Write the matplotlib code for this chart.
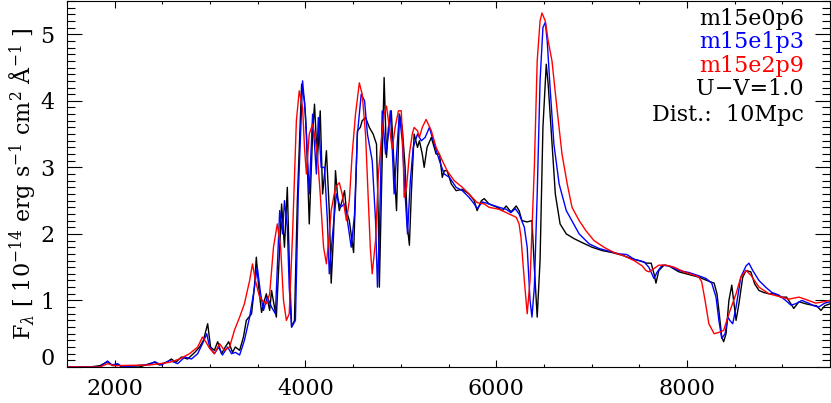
import matplotlib
matplotlib.use("Agg")
import matplotlib.pyplot as plt
from matplotlib.ticker import MultipleLocator, FuncFormatter

# --- data (wavelength in Angstrom, flux in 1e-14 units) ---
wl_k = [1500, 1740, 1845, 1925, 1980, 2030, 2075, 2260, 2365, 2420, 2470, 2555, 2595, 2640, 2700,
        2765, 2840, 2890, 2930, 2975, 3005, 3045, 3080, 3120, 3160, 3195, 3235, 3265, 3310, 3350,
        3380, 3435, 3465, 3485, 3510, 3540, 3570, 3590, 3625, 3645, 3675, 3695, 3730, 3750, 3780,
        3810, 3830, 3855, 3885, 3915, 3960, 3990, 4010, 4040, 4075, 4095, 4125, 4155, 4180, 4200,
        4220, 4250, 4270, 4295, 4315, 4335, 4355, 4385, 4410, 4430, 4460, 4505, 4525, 4545, 4575,
        4595, 4630, 4670, 4710, 4745, 4765, 4775, 4795, 4825, 4850, 4870, 4900, 4930, 4955, 4985,
        5015, 5045, 5070, 5090, 5110, 5140, 5175, 5195, 5225, 5245, 5275, 5320, 5350, 5370, 5405,
        5435, 5455, 5485, 5530, 5580, 5645, 5715, 5770, 5800, 5845, 5875, 5925, 6010, 6065, 6105,
        6155, 6210, 6240, 6270, 6325, 6375, 6400, 6430, 6460, 6490, 6525, 6545, 6575, 6620, 6670,
        6735, 6815, 6900, 7005, 7110, 7215, 7320, 7415, 7495, 7580, 7625, 7655, 7675, 7705, 7760,
        7810, 7915, 8020, 8125, 8210, 8285, 8315, 8335, 8365, 8385, 8410, 8440, 8470, 8490, 8515,
        8545, 8585, 8620, 8670, 8710, 8755, 8805, 8860, 8920, 8985, 9045, 9090, 9120, 9175, 9245,
        9310, 9360, 9405, 9445, 9500]
fl_k = [0.0, 0.0, 0.02, 0.08, 0.02, 0.04, 0.0, 0.0, 0.05, 0.07, 0.03, 0.08, 0.12, 0.07, 0.15,
        0.12, 0.22, 0.3, 0.4, 0.65, 0.3, 0.25, 0.38, 0.2, 0.3, 0.38, 0.22, 0.3, 0.25, 0.45,
        0.7, 0.8, 1.2, 1.65, 1.2, 0.82, 1.0, 1.1, 0.85, 1.15, 0.9, 0.75, 1.8, 2.45, 1.8,
        2.7, 1.6, 0.6, 0.7, 2.5, 4.25, 4.0, 3.5, 2.15, 3.5, 3.95, 3.1, 3.85, 2.6, 2.9,
        3.25, 2.35, 1.26, 2.0, 2.95, 2.6, 2.35, 2.5, 2.65, 2.35, 2.2, 1.72, 2.6, 3.55, 3.6,
        3.7, 3.75, 3.6, 3.5, 3.35, 2.2, 1.2, 2.5, 4.35, 3.15, 3.6, 3.85, 3.0, 2.35, 3.8,
        3.6, 3.0, 2.1, 1.83, 2.6, 3.5, 3.3, 3.4, 3.2, 3.0, 3.3, 3.45, 3.3, 3.2, 3.2,
        2.85, 2.95, 2.95, 2.75, 2.65, 2.67, 2.6, 2.5, 2.35, 2.5, 2.53, 2.45, 2.4, 2.35, 2.42,
        2.33, 2.42, 2.35, 2.2, 2.18, 2.2, 1.5, 0.75, 1.6, 3.6, 4.55, 4.25, 3.6, 2.6, 2.15,
        2.0, 1.93, 1.87, 1.8, 1.75, 1.72, 1.68, 1.63, 1.6, 1.56, 1.56, 1.4, 1.26, 1.45, 1.53,
        1.52, 1.43, 1.39, 1.35, 1.3, 1.26, 1.1, 0.85, 0.45, 0.38, 0.5, 1.0, 1.23, 1.0, 0.7,
        0.95, 1.35, 1.45, 1.43, 1.25, 1.15, 1.12, 1.1, 1.1, 1.05, 1.05, 0.95, 0.88, 0.98, 0.95,
        0.93, 0.92, 0.85, 0.92, 0.95]

wl_b = [1500, 1845, 1925, 1970, 2030, 2085, 2365, 2420, 2490, 2575, 2660, 2735, 2805, 2870, 2920,
        2965, 2995, 3045, 3090, 3130, 3185, 3225, 3265, 3310, 3360, 3415, 3455, 3495, 3530, 3560,
        3600, 3645, 3685, 3730, 3760, 3780, 3810, 3830, 3855, 3895, 3925, 3970, 4000, 4040, 4075,
        4115, 4135, 4165, 4200, 4230, 4250, 4285, 4325, 4365, 4410, 4440, 4480, 4515, 4545, 4585,
        4620, 4650, 4700, 4735, 4755, 4775, 4805, 4840, 4870, 4890, 4910, 4930, 4965, 4985, 5015,
        5045, 5070, 5100, 5130, 5175, 5215, 5255, 5300, 5340, 5405, 5455, 5510, 5580, 5645, 5715,
        5770, 5800, 5855, 5925, 6030, 6105, 6155, 6200, 6240, 6295, 6325, 6355, 6375, 6400, 6430,
        6460, 6490, 6515, 6535, 6565, 6605, 6660, 6735, 6870, 6975, 7080, 7185, 7290, 7370, 7445,
        7550, 7600, 7655, 7685, 7740, 7810, 7915, 8020, 8125, 8200, 8260, 8305, 8335, 8365, 8400,
        8430, 8450, 8480, 8515, 8565, 8620, 8650, 8690, 8755, 8825, 8890, 8965, 9035, 9090, 9140,
        9205, 9275, 9330, 9380, 9445, 9500]
fl_b = [0.0, 0.0, 0.09, 0.03, 0.05, 0.0, 0.04, 0.08, 0.03, 0.1, 0.05, 0.15, 0.12, 0.2, 0.35,
        0.5, 0.3, 0.2, 0.3, 0.18, 0.3, 0.2, 0.22, 0.18, 0.4, 0.75, 1.1, 1.5, 1.1, 0.85,
        1.05, 0.9, 0.8, 2.35, 2.0, 2.5, 2.1, 1.2, 0.6, 0.7, 2.6, 4.3, 3.8, 2.6, 3.8,
        2.9, 3.75, 3.0, 3.0, 2.2, 1.4, 2.0, 2.6, 2.4, 2.45, 2.2, 1.8, 2.3, 3.5, 4.1,
        4.0, 3.5, 3.1, 2.2, 1.2, 2.0, 3.85, 3.2, 3.5, 3.85, 3.3, 2.6, 3.4, 3.8, 3.4,
        2.6, 2.0, 2.8, 3.3, 3.5, 3.4, 3.45, 3.6, 3.4, 3.1, 2.9, 2.85, 2.7, 2.65, 2.55,
        2.45, 2.38, 2.48, 2.45, 2.4, 2.37, 2.32, 2.38, 2.3, 2.1, 1.8, 1.0, 0.75, 1.2, 2.6,
        4.3, 5.1, 5.18, 4.9, 4.2, 3.35, 2.75, 2.35, 2.0, 1.85, 1.78, 1.74, 1.7, 1.69, 1.62,
        1.58, 1.5, 1.33, 1.42, 1.53, 1.52, 1.45, 1.42, 1.37, 1.33, 1.26, 1.05, 0.7, 0.43, 0.5,
        0.75, 0.7, 0.65, 0.9, 1.35, 1.52, 1.56, 1.45, 1.3, 1.2, 1.12, 1.08, 1.0, 0.93, 0.95,
        1.0, 0.96, 0.92, 0.9, 0.96, 0.98]

wl_r = [1500, 1845, 1925, 2000, 2365, 2575, 2680, 2785, 2870, 2920, 2955, 2995, 3045, 3100, 3150,
        3205, 3255, 3310, 3360, 3415, 3445, 3475, 3520, 3550, 3590, 3625, 3665, 3705, 3740, 3770,
        3800, 3830, 3865, 3905, 3935, 3970, 3990, 4010, 4040, 4075, 4105, 4125, 4155, 4190, 4220,
        4250, 4270, 4315, 4355, 4385, 4430, 4460, 4490, 4525, 4565, 4595, 4630, 4660, 4680, 4700,
        4735, 4765, 4795, 4825, 4850, 4880, 4910, 4940, 4975, 5005, 5025, 5035, 5060, 5090, 5120,
        5140, 5175, 5195, 5225, 5265, 5320, 5370, 5435, 5485, 5560, 5645, 5715, 5800, 5875, 5925,
        6030, 6135, 6210, 6240, 6260, 6295, 6325, 6355, 6400, 6430, 6460, 6480, 6515, 6545, 6585,
        6640, 6690, 6745, 6795, 6870, 6940, 7025, 7130, 7235, 7340, 7445, 7530, 7570, 7600, 7655,
        7705, 7780, 7865, 7970, 8075, 8125, 8155, 8190, 8230, 8285, 8335, 8385, 8440, 8515, 8565,
        8620, 8670, 8755, 8860, 8965, 9070, 9175, 9275, 9350, 9435, 9500]
fl_r = [0.0, 0.0, 0.05, 0.02, 0.03, 0.07, 0.12, 0.2, 0.3, 0.45, 0.38, 0.28, 0.2, 0.35, 0.25,
        0.3, 0.55, 0.75, 0.95, 1.3, 1.55, 1.3, 1.05, 1.0, 0.95, 1.1, 1.8, 2.15, 1.8, 1.0,
        0.7, 0.8, 2.0, 3.7, 4.15, 3.9, 3.3, 2.9, 3.5, 3.65, 3.4, 3.2, 2.6, 1.8, 1.55,
        2.0, 2.35, 2.7, 2.77, 2.6, 2.2, 2.5, 3.2, 3.8, 4.27, 4.1, 3.5, 2.5, 1.8, 1.4,
        1.9, 2.9, 3.4, 3.8, 3.92, 3.6, 3.28, 3.6, 3.85, 3.85, 3.2, 2.55, 2.7, 3.2, 3.5,
        3.6, 3.55, 3.45, 3.6, 3.72, 3.55, 3.3, 3.1, 2.95, 2.8, 2.7, 2.6, 2.47, 2.45, 2.4,
        2.37, 2.3, 2.25, 2.15, 1.95, 1.3, 0.8, 1.3, 3.0, 4.6, 5.2, 5.32, 5.2, 4.9, 4.6,
        3.85, 3.2, 2.75, 2.4, 2.2, 2.05, 1.9, 1.8, 1.72, 1.67, 1.6, 1.52, 1.45, 1.43, 1.48,
        1.53, 1.53, 1.5, 1.43, 1.38, 1.35, 1.28, 1.0, 0.65, 0.5, 0.52, 0.55, 0.8, 1.1, 1.35,
        1.45, 1.38, 1.2, 1.1, 1.06, 1.02, 1.05, 1.0, 0.96, 0.98, 1.0]

models = ["m15e0p6", "m15e1p3", "m15e2p9"]
colors = ["black", "blue", "red"]
notes = ["U\u2212V=1.0", "Dist.:  10Mpc"]

plt.rcParams['font.family'] = ['DejaVu Serif']
plt.rcParams['mathtext.fontset'] = 'dejavuserif'

fig = plt.figure(figsize=(8.31, 4.03), dpi=100)
ax = fig.add_axes([67 / 831, 36 / 403, 763 / 831, 366 / 403])

for wl, fl, c in zip([wl_k, wl_b, wl_r], [fl_k, fl_b, fl_r], colors):
    ax.plot(wl, fl, color=c, lw=1.0)

ax.set_xlim(1500, 9500)
ax.set_ylim(0, 5.5)
ax.xaxis.set_major_locator(MultipleLocator(2000))
ax.xaxis.set_minor_locator(MultipleLocator(500))
ax.yaxis.set_major_locator(MultipleLocator(1))
ax.yaxis.set_minor_locator(MultipleLocator(0.1))
# the 0 label is drawn separately, lifted off the corner as in the original
ax.yaxis.set_major_formatter(FuncFormatter(lambda v, p: "" if v == 0 else "%d" % v))
ax.tick_params(which='both', direction='in', top=True, right=True, width=0.8, labelsize=16)
ax.tick_params(axis='x', which='major', length=5, pad=8)
ax.tick_params(axis='x', which='minor', length=2.5)
ax.tick_params(axis='y', which='major', length=11, pad=9)
ax.tick_params(axis='y', which='minor', length=5.5)
for s in ax.spines.values():
    s.set_linewidth(0.8)

ax.annotate("0", xy=(0, 0), xycoords='axes fraction', xytext=(-9, -2),
            textcoords='offset points', ha='right', va='bottom', fontsize=16)

ax.set_ylabel(r'F$_\lambda$ [ 10$^{-14}$ erg s$^{-1}$ cm$^2$ Å$^{-1}$ ]', fontsize=16,
              va='center')
ax.yaxis.set_label_coords(-0.058, 0.5)

texts = models + notes
tcolors = colors + ["black", "black"]
ypos = [0.951, 0.888, 0.822, 0.760, 0.689]
for t, c, yp in zip(texts, tcolors, ypos):
    ax.text(0.966, yp, t, color=c, fontsize=16, ha='right', va='center', transform=ax.transAxes)

fig.savefig("out.png", dpi=100)
